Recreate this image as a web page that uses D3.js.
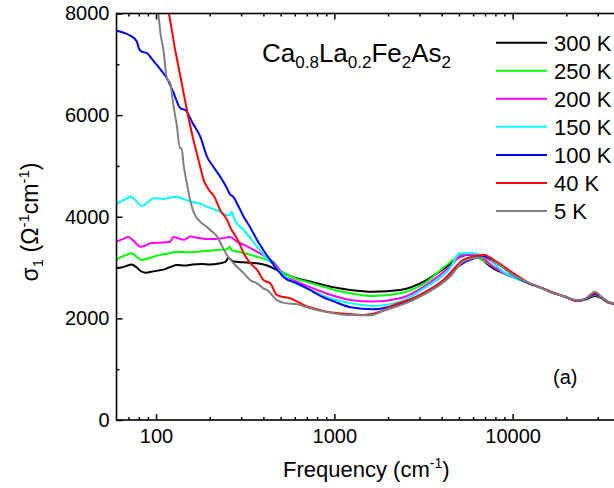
<!DOCTYPE html>
<html><head><meta charset="utf-8">
<script src="https://cdn.jsdelivr.net/npm/d3@7"></script>
<style>body{margin:0;background:#fff}svg{display:block}text{font-family:Arial,"Liberation Sans",sans-serif;fill:#000}</style>
</head><body>
<script>
// ---- data (frequency in cm^-1, sigma_1 in Ohm^-1 cm^-1) ----
const temps = ["300 K","250 K","200 K","150 K","100 K","40 K","5 K"];
const colors = ["#000000","#00ff00","#ff00ff","#00ffff","#0000ff","#ff0000","#808080"];

const f300 = [60,64,68,73,78,83,88,95,102,110,120,131,145,160,180,200,229,245,255,262,272,290,320,368,420,456,490,518,600,700,800,1000,1230,1650,2340,3290,4270,5000,5770,6560,7780,8840,10500,12500,14200,16900,19200,23200,25700,28900,31400,34300,37000,40000];
const s300 = [2990,3000,3030,3060,3000,2920,2900,2920,2940,2960,3010,3050,3040,3060,3070,3060,3085,3110,3200,3160,3120,3110,3100,3085,3040,2985,2930,2890,2800,2740,2690,2610,2560,2525,2560,2755,3020,3200,3250,3180,2985,2890,2790,2680,2610,2500,2440,2345,2370,2440,2400,2310,2290,2260];

const f250 = [60,66,73,78,83,90,100,106,115,131,150,170,200,229,250,258,266,300,338,380,419,456,490,518,600,700,800,1000,1230,1650,2340,3290,4270,5290,6000,6560,7780,8840,10500,12500,14200,16900,19200,23200,25700,28900,31400,34300,37000,40000];
const s250 = [3163,3230,3280,3210,3150,3180,3230,3250,3270,3310,3300,3310,3330,3350,3360,3410,3340,3300,3250,3200,3150,3115,2960,2900,2790,2720,2660,2560,2495,2440,2495,2720,3050,3270,3250,3180,3020,2900,2790,2680,2610,2500,2440,2345,2380,2460,2410,2310,2290,2260];

const f200 = [60,65,70,75,82,88,93,105,120,125,135,143,156,175,201,230,260,284,310,352,400,437,487,518,600,700,800,1000,1230,1650,2340,3290,4450,5050,5520,6300,7000,7780,8840,10500,12500,14200,16900,19200,23200,25700,28900,31400,34300,37000,40000];
const s200 = [3510,3560,3600,3520,3410,3440,3480,3490,3510,3600,3570,3545,3610,3580,3560,3570,3600,3510,3450,3350,3240,3150,2985,2850,2740,2640,2560,2440,2360,2330,2395,2660,3020,3215,3250,3250,3150,3020,2900,2790,2680,2610,2500,2440,2345,2385,2470,2415,2315,2290,2260];

const f150 = [60,66,72,78,83,90,97,110,120,131,140,156,175,193,210,229,250,260,265,275,310,340,368,400,437,476,518,600,700,800,1000,1230,1650,2340,3290,4450,5050,5990,6500,7450,8840,10500,12500,14200,16900,19200,23200,25700,28900,31400,34300,37000,40000];
const s150 = [4265,4330,4395,4300,4210,4290,4365,4350,4380,4395,4360,4300,4260,4200,4150,4100,4030,4035,4100,3950,3740,3570,3410,3260,3115,2985,2850,2700,2590,2495,2370,2300,2245,2330,2625,2985,3280,3280,3250,3150,2920,2790,2680,2610,2500,2440,2345,2385,2480,2420,2320,2290,2260];

const f100 = [60,66,72,78,80,83,89,95,101,108,115,125,137,146,160,177,193,210,229,250,260,270,290,310,340,368,400,437,470,497,520,617,731,850,1000,1230,1650,2050,2900,4100,4450,5500,6850,8110,10000,12500,14200,16900,19200,23200,25700,28900,31400,34300,37000,40000];
const s100 = [7660,7620,7560,7450,7320,7250,7220,7100,6990,6860,6725,6450,6135,6100,5850,5575,5185,4980,4790,4560,4440,4400,4200,4000,3770,3545,3340,3150,2990,2890,2810,2690,2560,2430,2330,2220,2180,2230,2430,2755,2880,3120,3215,3100,2860,2680,2610,2500,2440,2345,2385,2480,2420,2320,2290,2260];

const f40 = [112,118,127,137,149,162,175,185,201,212,229,250,260,284,297,310,338,370,400,437,476,520,565,620,672,800,910,1000,1230,1450,1810,2050,2900,4100,5290,6000,6850,8110,10080,12500,14200,16900,19200,23200,25700,28900,31400,34300,37000,40000];
const s40 = [8300,8000,7350,6760,6100,5510,5050,4720,4500,4400,4130,3940,3800,3575,3430,3280,3085,2950,2755,2690,2460,2420,2395,2330,2265,2180,2130,2110,2085,2065,2130,2230,2430,2755,3150,3220,3250,3115,2890,2690,2615,2505,2440,2345,2390,2500,2425,2320,2290,2260];

const f5 = [100,103,106,110,115,120,125,131,136,139,143,149,156,162,177,193,201,220,240,255,272,310,338,368,385,400,419,476,530,617,700,800,1000,1230,1580,1890,2900,4450,5290,6560,8110,10080,12500,14200,16200,19200,23200,25700,28900,31400,34300,37000,40000];
const s5 = [8400,8000,7600,7280,6725,6630,6200,5775,5350,5350,5000,4650,4300,4100,3900,3800,3740,3610,3350,3200,3085,2890,2750,2690,2640,2590,2560,2360,2300,2280,2220,2165,2100,2065,2060,2150,2395,2820,3115,3200,3085,2855,2690,2610,2520,2440,2350,2395,2525,2430,2330,2295,2260];

const freqs = [f300,f250,f200,f150,f100,f40,f5];
const sigmas = [s300,s250,s200,s150,s100,s40,s5];

const xMajor = [100,1000,10000];
const xMinor = [70,80,90,200,300,400,500,600,700,800,900,2000,3000,4000,5000,6000,7000,8000,9000,20000,30000];
const yMajor = [0,2000,4000,6000,8000];
const yMinor = [1000,3000,5000,7000];

// ---- drawing ----
const W = 614, H = 488;
const L = 116.5, R = 620, T = 13.5, B = 420;
const svg = d3.select("body").append("svg").attr("width", W).attr("height", H);
const x = d3.scaleLog().domain([60, 40000]).range([L, R]);
const y = d3.scaleLinear().domain([0, 8000]).range([B, T]);

svg.append("defs").append("clipPath").attr("id","clip")
  .append("rect").attr("x",L).attr("y",T).attr("width",R-L).attr("height",B-T);

const line = d3.line().x(d => x(d[0])).y(d => y(d[1])).curve(d3.curveMonotoneX);
const plot = svg.append("g").attr("clip-path","url(#clip)");
freqs.forEach((fs, i) => {
  const pts = fs.map((f, j) => [f, sigmas[i][j]]);
  plot.append("path").datum(pts).attr("d", line)
    .attr("fill","none").attr("stroke", colors[i]).attr("stroke-width", 2)
    .attr("stroke-linejoin","round");
});

function styleAxis(g){ g.select(".domain").remove(); g.selectAll("line").attr("stroke","#000").attr("stroke-width",1.5); g.selectAll("text").attr("font-size",20).attr("font-family","Arial, 'Liberation Sans', sans-serif").attr("fill","#000"); }

svg.append("g").attr("transform",`translate(0,${B})`)
  .call(d3.axisBottom(x).tickValues(xMajor).tickSize(-6).tickPadding(9).tickFormat(d3.format("d"))).call(styleAxis);
svg.append("g").attr("transform",`translate(0,${B})`)
  .call(d3.axisBottom(x).tickValues(xMinor).tickSize(-3).tickFormat("")).call(styleAxis);
svg.append("g").attr("transform",`translate(0,${T})`)
  .call(d3.axisTop(x).tickValues(xMajor).tickSize(-6).tickFormat("")).call(styleAxis);
svg.append("g").attr("transform",`translate(0,${T})`)
  .call(d3.axisTop(x).tickValues(xMinor).tickSize(-3).tickFormat("")).call(styleAxis);
svg.append("g").attr("transform",`translate(${L},0)`)
  .call(d3.axisLeft(y).tickValues(yMajor).tickSize(-6).tickPadding(7).tickFormat(d3.format("d"))).call(styleAxis);
svg.append("g").attr("transform",`translate(${L},0)`)
  .call(d3.axisLeft(y).tickValues(yMinor).tickSize(-3).tickFormat("")).call(styleAxis);

svg.append("rect").attr("x",L).attr("y",T).attr("width",R-L).attr("height",B-T)
  .attr("fill","none").attr("stroke","#000").attr("stroke-width",1.6);

// axis titles
const xt = svg.append("text").attr("x",283).attr("y",477).attr("font-size",22);
xt.append("tspan").text("Frequency (cm");
xt.append("tspan").attr("font-size",14).attr("dy",-9).text("-1");
xt.append("tspan").attr("dy",9).text(")");

const yt = svg.append("text").attr("transform","translate(38,222) rotate(-90)")
  .attr("text-anchor","middle").attr("font-size",23);
yt.append("tspan").text("σ");
yt.append("tspan").attr("font-size",15).attr("dy",5).text("1");
yt.append("tspan").attr("dy",-5).text(" (Ω");
yt.append("tspan").attr("font-size",15).attr("dy",-9).text("-1");
yt.append("tspan").attr("dy",9).text("cm");
yt.append("tspan").attr("font-size",15).attr("dy",-9).text("-1");
yt.append("tspan").attr("dy",9).text(")");

// compound title
const tt = svg.append("text").attr("x",262).attr("y",62).attr("font-size",26);
const parts = [["Ca",0],["0.8",1],["La",0],["0.2",1],["Fe",0],["2",1],["As",0],["2",1]];
let prevSub = 0;
parts.forEach(([s, sub]) => {
  const t = tt.append("tspan").text(s);
  if (sub) { t.attr("font-size",17).attr("dy", prevSub ? 0 : 6); }
  else { t.attr("dy", prevSub ? -6 : 0); }
  prevSub = sub;
});

// legend
temps.forEach((t, i) => {
  const cy = 42.7 + i * 28.05;
  svg.append("line").attr("x1",496).attr("x2",547).attr("y1",cy).attr("y2",cy)
    .attr("stroke",colors[i]).attr("stroke-width",2);
  svg.append("text").attr("x",554).attr("y",cy+7.8).attr("font-size",22).text(t);
});

svg.append("text").attr("x",553).attr("y",384).attr("font-size",20).text("(a)");
</script>
</body></html>
